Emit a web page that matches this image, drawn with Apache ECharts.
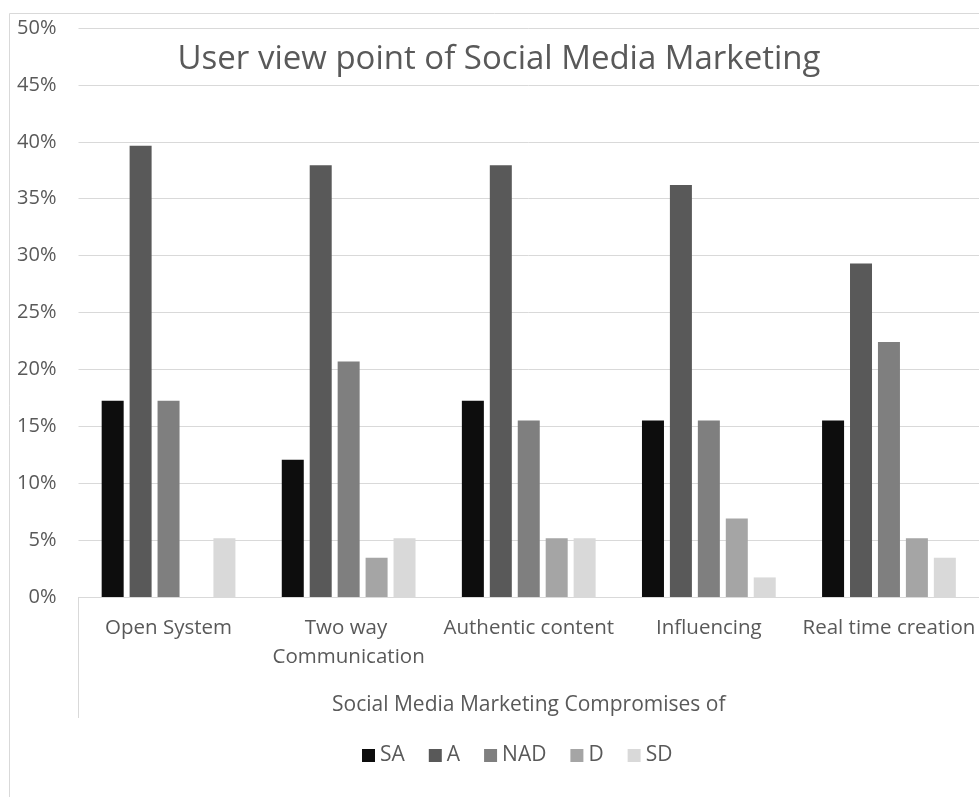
<!DOCTYPE html>
<html>
<head>
<meta charset="utf-8">
<script src="https://cdn.jsdelivr.net/npm/echarts@6/dist/echarts.min.js"></script>
<style>
  html, body { margin: 0; padding: 0; background: #ffffff; }
  #chart { width: 979px; height: 797px; }
</style>
</head>
<body>
<div id="chart"></div>
<script>
// Survey responses (percent of respondents) per marketing aspect
const categories = ['Open System', 'Two way Communication', 'Authentic content', 'Influencing', 'Real time creation'];
const seriesNames = ['SA', 'A', 'NAD', 'D', 'SD'];
const saValues  = [17.24, 12.07, 17.24, 15.52, 15.52];
const aValues   = [39.66, 37.93, 37.93, 36.21, 29.31];
const nadValues = [17.24, 20.69, 15.52, 15.52, 22.41];
const dValues   = [0, 3.45, 5.17, 6.90, 5.17];
const sdValues  = [5.17, 5.17, 5.17, 1.72, 3.45];
const yTicks = { min: 0, max: 50, interval: 5 };

const colors = ['#0d0d0d', '#595959', '#7f7f7f', '#a5a5a5', '#d9d9d9'];
const values = [saValues, aValues, nadValues, dValues, sdValues];
const FONT = '"Open Sans", sans-serif';
const TEXT = '#595959';

const chart = echarts.init(document.getElementById('chart'), null, { renderer: 'canvas' });

const series = seriesNames.map((name, i) => ({
  name: name,
  type: 'bar',
  data: values[i],
  barWidth: 22,
  barGap: '27%',
  itemStyle: { color: colors[i] }
}));

chart.setOption({
  animation: false,
  color: colors,
  title: {
    text: 'User view point of Social Media Marketing',
    left: 494,
    top: 38,
    textAlign: 'center',
    textStyle: { fontFamily: FONT, fontSize: 33, fontWeight: 'normal', color: TEXT }
  },
  legend: {
    data: seriesNames,
    left: 357,
    top: 740,
    itemWidth: 13,
    itemHeight: 13,
    itemGap: 24,
    icon: 'rect',
    textStyle: { fontFamily: FONT, fontSize: 21, color: TEXT }
  },
  grid: { left: 78.5, top: 28, width: 905, height: 569 },
  xAxis: {
    type: 'category',
    data: categories,
    axisLine: { lineStyle: { color: '#d9d9d9', width: 1 } },
    axisTick: { show: false },
    axisLabel: {
      fontFamily: FONT, fontSize: 20.5, color: TEXT,
      margin: 17, lineHeight: 29,
      width: 175, overflow: 'break', interval: 0
    },
    name: 'Social Media Marketing Compromises of',
    nameLocation: 'middle',
    nameGap: 98,
    nameTextStyle: { fontFamily: FONT, fontSize: 21, color: TEXT }
  },
  yAxis: {
    type: 'value',
    min: yTicks.min,
    max: yTicks.max,
    interval: yTicks.interval,
    axisLine: { show: false },
    axisTick: { show: false },
    splitLine: { lineStyle: { color: '#d9d9d9', width: 1 } },
    axisLabel: {
      fontFamily: FONT, fontSize: 20, color: TEXT, margin: 22,
      formatter: v => v + '%'
    }
  },
  graphic: [
    { type: 'rect', shape: { x: 9.5, y: 13.5, width: 1200, height: 1000 },
      style: { fill: 'none', stroke: '#d9d9d9', lineWidth: 1 }, silent: true },
    { type: 'line', shape: { x1: 78.5, y1: 597, x2: 78.5, y2: 718 },
      style: { stroke: '#d9d9d9', lineWidth: 1 }, silent: true }
  ],
  series: series
});
</script>
</body>
</html>
